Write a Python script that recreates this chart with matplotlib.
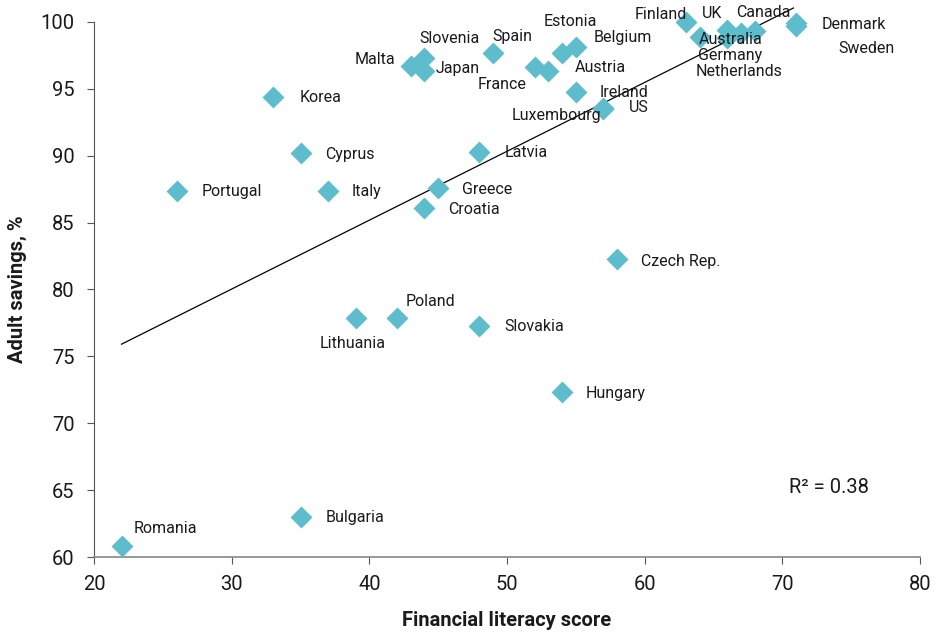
import matplotlib

matplotlib.use("Agg")
import matplotlib.pyplot as plt
import numpy as np

plt.rcParams["font.family"] = ["Roboto", "DejaVu Sans"]

countries = [
    "Romania", "Bulgaria", "Hungary", "Slovakia", "Poland", "Lithuania",
    "Czech Rep.", "Croatia", "Greece", "Italy", "Portugal", "Cyprus",
    "Latvia", "Korea", "Malta", "Japan", "Slovenia", "Spain", "France",
    "Austria", "Estonia", "Belgium", "Ireland", "Luxembourg", "US",
    "Finland", "UK", "Canada", "Australia", "Germany", "Netherlands",
    "Denmark", "Sweden",
]
literacy = [
    22, 35, 54, 48, 42, 39,
    58, 44, 45, 37, 26, 35,
    48, 33, 43, 44, 44, 49, 52,
    53, 54, 55, 55, 57, 57,
    63, 64, 68, 67, 66, 66,
    71, 71,
]
savings = [
    60.8, 63.0, 72.3, 77.3, 77.9, 77.9,
    82.3, 86.1, 87.6, 87.4, 87.4, 90.2,
    90.3, 94.4, 96.7, 96.3, 97.3, 97.7, 96.6,
    96.3, 97.7, 98.1, 94.8, 93.5, 93.6,
    100.0, 98.9, 99.3, 99.2, 98.8, 99.4,
    99.9, 99.7,
]
r_squared = 0.38

# label offsets in pixels (left edge, vertical centre) relative to the marker
label_offsets = {
    "Romania": (12, 18), "Bulgaria": (25, -1), "Hungary": (24, -1),
    "Slovakia": (25, -1), "Poland": (9, 16), "Lithuania": (-36, -26),
    "Czech Rep.": (24, -3), "Croatia": (24, -2), "Greece": (24, -2),
    "Italy": (24, -1), "Portugal": (25, -1), "Cyprus": (25, -1),
    "Latvia": (25, -1), "Korea": (27, -1), "Malta": (-56, 7),
    "Japan": (11, 3), "Slovenia": (-5, 20), "Spain": (-1, 16),
    "France": (-57, -17), "Austria": (26, 4), "Estonia": (-18, 31),
    "Belgium": (18, 10), "Ireland": (24, -1), "Luxembourg": (-92, -7),
    "US": (25, 0), "Finland": (-51, 7), "UK": (2, 23), "Canada": (-19, 19),
    "Australia": (-42, -7), "Germany": (-29, -17), "Netherlands": (-32, -42),
    "Denmark": (25, -1), "Sweden": (42, -23),
}

MARKER_COLOR = "#5ebdcd"
TEXT_COLOR = "#1a1a1a"

fig = plt.figure(figsize=(9.36, 6.35), dpi=100)
ax = fig.add_axes([0.1004, 0.1228, 0.8826, 0.8426])

x = np.array(literacy, dtype=float)
y = np.array(savings, dtype=float)

ax.scatter(x, y, marker="D", s=125, color=MARKER_COLOR, linewidths=0, zorder=3, clip_on=False)

slope, intercept = np.polyfit(x, y, 1)
xfit = np.array([x.min(), 70.8])
ax.plot(xfit, slope * xfit + intercept, color="black", lw=0.9, zorder=2, clip_on=False)

for name, xi, yi in zip(countries, x, y):
    dx, dy = label_offsets[name]
    ax.annotate(name, (xi, yi), xytext=(dx, dy), textcoords="offset pixels",
                ha="left", va="center", fontsize=11.5, color=TEXT_COLOR, zorder=4,
                annotation_clip=False)

ax.text(70.5, 65.2, f"R² = {r_squared:.2f}", fontsize=14.5, color=TEXT_COLOR, ha="left", va="center")

ax.set_xlim(20, 80)
ax.set_ylim(60, 100)
ax.set_xticks(range(20, 81, 10))
ax.set_yticks(range(60, 101, 5))
ax.tick_params(axis="both", labelsize=14.5, colors=TEXT_COLOR, direction="out", length=5, width=0.8)
ax.tick_params(axis="both", color="#555555")
ax.tick_params(axis="y", pad=9)
ax.tick_params(axis="x", pad=8)

for side in ("top", "right"):
    ax.spines[side].set_visible(False)
ax.spines["left"].set_color("#555555")
ax.spines["bottom"].set_color("#888888")
ax.spines["left"].set_linewidth(0.8)
ax.spines["bottom"].set_linewidth(1.2)

ax.set_xlabel("Financial literacy score", fontsize=14.5, fontweight="bold", color=TEXT_COLOR, labelpad=12)
ax.set_ylabel("Adult savings, %", fontsize=14.5, fontweight="bold", color=TEXT_COLOR, labelpad=10)

fig.savefig("out.png", dpi=100)
